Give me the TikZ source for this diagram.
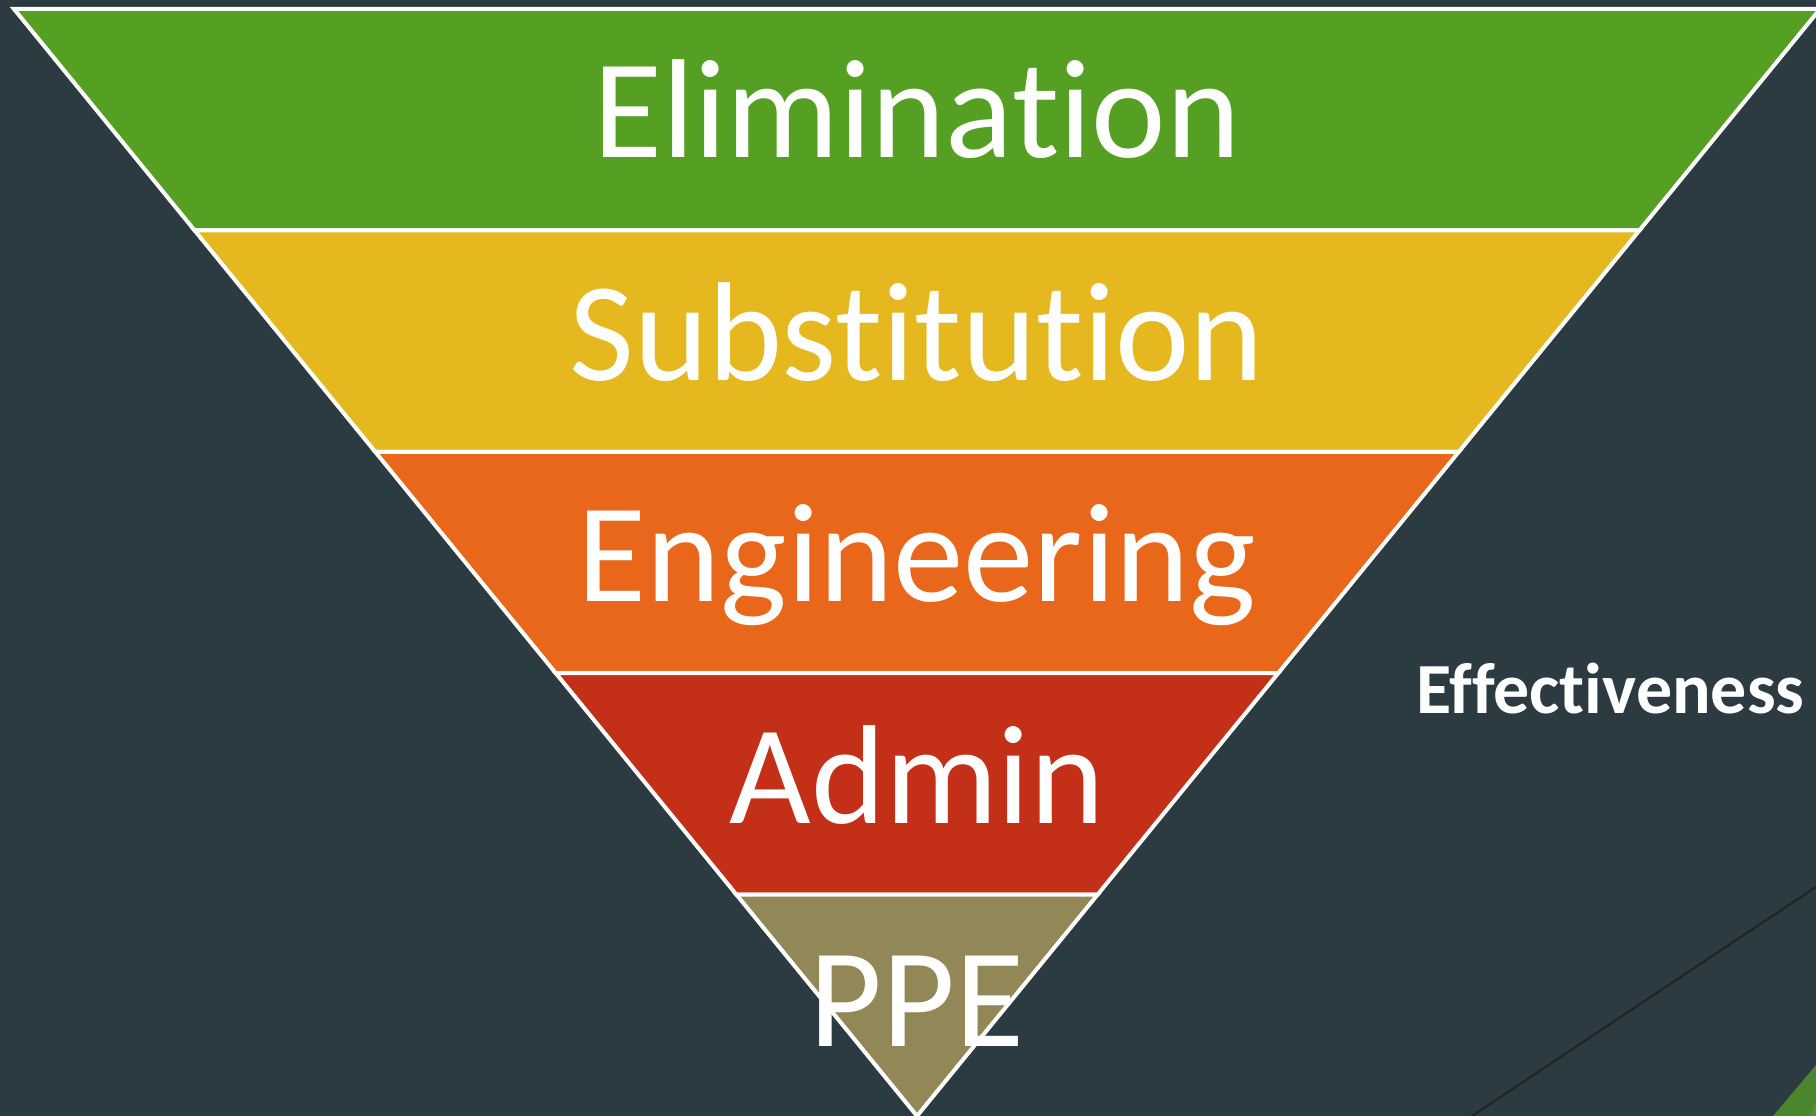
\documentclass[tikz,border=0pt]{standalone}
\usepackage{fontspec}
\setmainfont{Carlito}[Ligatures={NoCommon,NoContextual}]
\usetikzlibrary{calc}
\definecolor{bg}{RGB}{44,59,66}
\definecolor{cgreen}{RGB}{85,160,34}
\definecolor{cyellow}{RGB}{229,184,31}
\definecolor{corange}{RGB}{232,103,26}
\definecolor{cred}{RGB}{196,47,23}
\definecolor{colive}{RGB}{146,135,86}
\definecolor{dgreen}{RGB}{75,133,45}
\definecolor{lgreen}{RGB}{84,144,48}
\definecolor{dline}{RGB}{30,36,38}
\tikzset{
  band/.style={draw=white, line width=4pt, line join=miter},
  bigtext/.style={text=white, inner sep=0pt, anchor=base, font=\fontsize{141}{141}\selectfont},
  sidetext/.style={text=white, inner sep=0pt, anchor=base west, font=\bfseries\fontsize{72}{72}\selectfont}
}
\begin{document}
\begin{tikzpicture}[x=1pt,y=-1pt]
\fill[bg] (0,0) rectangle (1816,1116);
\useasboundingbox (0,0) rectangle (1816,1116);
\coordinate (TL) at (14,9);
\coordinate (TR) at (1820,9);
\coordinate (A) at (917,1116);
\foreach \k in {1,2,3,4}{
  \coordinate (L\k) at ($(TL)!0.2*\k!(A)$);
  \coordinate (R\k) at ($(TR)!0.2*\k!(A)$);
}
% decorative corner
\draw[dline, line width=2pt] (1816,887) -- (1472,1116);
\fill[dgreen] (1773,1116) -- (1816,1065) -- (1816,1116) -- cycle;
\fill[lgreen] (1810,1116) -- (1816,1100) -- (1816,1116) -- cycle;
% bands
\filldraw[band, fill=cgreen] (TL) -- (TR) -- (R1) -- (L1) -- cycle;
\filldraw[band, fill=cyellow] (L1) -- (R1) -- (R2) -- (L2) -- cycle;
\filldraw[band, fill=corange] (L2) -- (R2) -- (R3) -- (L3) -- cycle;
\filldraw[band, fill=cred] (L3) -- (R3) -- (R4) -- (L4) -- cycle;
\filldraw[band, fill=colive] (L4) -- (R4) -- (A) -- cycle;
% labels
\node[bigtext] (elim) at (917,157) {Elimination};
\node[bigtext] (subst) at (917,380) {Substitution};
\node[bigtext] (eng) at (917,601) {Engineering};
\node[bigtext] (admin) at (917,823) {Admin};
\node[bigtext] (ppe) at (917,1046) {PPE};
\node[sidetext] (eff) at (1416,713) {Effectiveness};
\end{tikzpicture}
\end{document}
